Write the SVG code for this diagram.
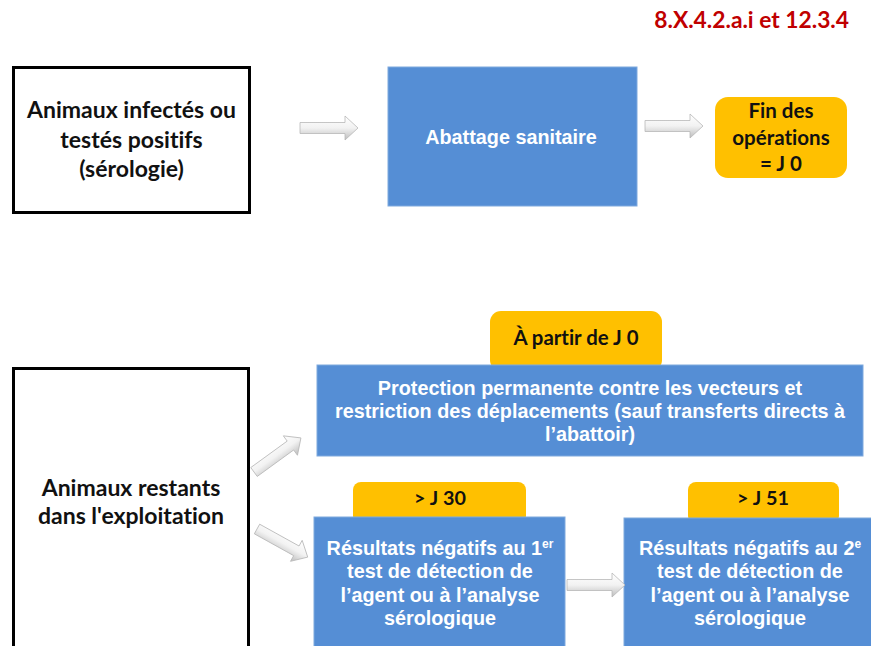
<svg xmlns="http://www.w3.org/2000/svg" width="871" height="646" viewBox="0 0 871 646">
  <style>
    .outline { fill: #ffffff; stroke: #000000; stroke-width: 3; }
    .blue { fill: #558ED5; stroke: #7FA9DE; stroke-width: 1; }
    .orange { fill: #FFC000; }
    .cal { font-family: Lato, "Open Sans", "Liberation Sans", sans-serif; font-weight: bold; fill: #111111; text-anchor: middle; font-variant-ligatures: none; }
    .ari { font-family: "Liberation Sans", Arial, sans-serif; font-weight: bold; fill: #ffffff; text-anchor: middle; font-size: 19.8px; }
    .ref { font-family: Lato, "Open Sans", "Liberation Sans", sans-serif; font-weight: bold; fill: #C00000; text-anchor: end; font-size: 22.8px; }
    .arrow { fill: url(#arrowGrad); stroke: #b8b8b8; stroke-width: 0.8; }
  </style>
  <defs>
    <linearGradient id="arrowGrad" x1="0" y1="0" x2="0" y2="1">
      <stop offset="0" stop-color="#ffffff"/>
      <stop offset="0.5" stop-color="#f2f2f2"/>
      <stop offset="1" stop-color="#bdbdbd"/>
    </linearGradient>
    <path id="blockArrow" d="M0,-5.5 L45,-5.5 L45,-12 L58,0 L45,12 L45,5.5 L0,5.5 Z"/>
  </defs>

  <text id="ref" class="ref" x="849" y="28">8.X.4.2.a.i et 12.3.4</text>

  <g id="node-infectes">
    <rect class="outline" x="13.5" y="67.5" width="236" height="145"/>
    <text class="cal" font-size="23" x="131.5" y="118">Animaux infectés ou</text>
    <text class="cal" font-size="23" x="131.5" y="148">testés positifs</text>
    <text class="cal" font-size="23" x="131.5" y="177">(sérologie)</text>
  </g>

  <g id="node-abattage">
    <rect class="blue" x="388" y="67" width="249" height="139"/>
    <text class="ari" x="511" y="144">Abattage sanitaire</text>
  </g>

  <g id="node-fin">
    <rect class="orange" x="715" y="97" width="132" height="81" rx="13" ry="13"/>
    <text class="cal" font-size="20.5" x="781" y="118">Fin des</text>
    <text class="cal" font-size="20.5" x="781" y="145">opérations</text>
    <text class="cal" font-size="20.5" x="781" y="171">= J 0</text>
  </g>

  <g id="node-restants">
    <rect class="outline" x="13.5" y="368.5" width="235" height="290"/>
    <text class="cal" font-size="23" x="131" y="496">Animaux restants</text>
    <text class="cal" font-size="23" x="131" y="524">dans l'exploitation</text>
  </g>

  <g id="node-protection">
    <rect class="orange" x="490" y="311" width="172" height="60" rx="11" ry="11"/>
    <text class="cal" font-size="20.4" x="576" y="345">À partir de J 0</text>
    <rect class="blue" x="317" y="365" width="546" height="91"/>
    <text class="ari" x="590" y="395">Protection permanente contre les vecteurs et</text>
    <text class="ari" x="590" y="418">restriction des déplacements (sauf transferts directs à</text>
    <text class="ari" x="590" y="441">l’abattoir)</text>
  </g>

  <g id="node-test1">
    <rect class="orange" x="353" y="482" width="173" height="42" rx="8" ry="8"/>
    <text class="cal" font-size="19.8" x="440" y="505">&gt; J 30</text>
    <rect class="blue" x="314" y="517" width="251" height="140"/>
    <text class="ari" x="440" y="555">Résultats négatifs au 1<tspan font-size="12" dy="-7">er</tspan></text>
    <text class="ari" x="440" y="578">test de détection de</text>
    <text class="ari" x="440" y="602">l’agent ou à l’analyse</text>
    <text class="ari" x="440" y="625">sérologique</text>
  </g>

  <g id="node-test2">
    <rect class="orange" x="688" y="482" width="151" height="42" rx="8" ry="8"/>
    <text class="cal" font-size="19.8" x="763" y="505">&gt; J 51</text>
    <rect class="blue" x="624" y="518" width="260" height="140"/>
    <text class="ari" x="750" y="555">Résultats négatifs au 2<tspan font-size="12" dy="-7">e</tspan></text>
    <text class="ari" x="750" y="578">test de détection de</text>
    <text class="ari" x="750" y="602">l’agent ou à l’analyse</text>
    <text class="ari" x="750" y="625">sérologique</text>
  </g>

  <g id="connectors">
    <use href="#blockArrow" class="arrow" transform="translate(300,128)"/>
    <use href="#blockArrow" class="arrow" transform="translate(645,126)"/>
    <use href="#blockArrow" class="arrow" transform="translate(567,585)"/>
    <use href="#blockArrow" class="arrow" transform="translate(254,472) rotate(-36)"/>
    <use href="#blockArrow" class="arrow" transform="translate(257,529) rotate(29)"/>
  </g>
</svg>
